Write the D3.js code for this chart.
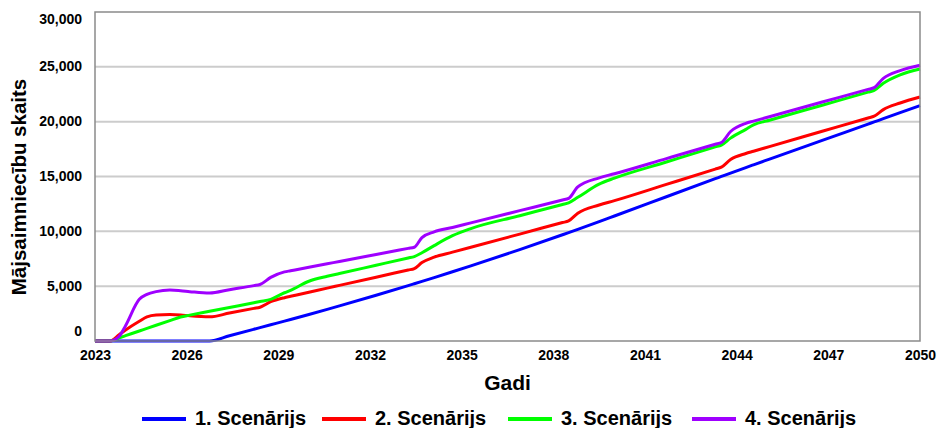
<!DOCTYPE html>
<html>
<head>
<meta charset="utf-8">
<script src="https://cdn.jsdelivr.net/npm/d3@7"></script>
<style>
  body { margin: 0; background: #fff; }
  text { font-family: "Liberation Sans", Arial, sans-serif; font-weight: bold; fill: #000; }
</style>
</head>
<body>
<div id="canvas"></div>
<script>
// time points (fractional years) shared by all series
var years = [2023, 2023.5, 2023.8, 2024.0, 2024.45, 2024.7, 2025.0, 2025.45, 2025.8, 2026.1,
  2026.75, 2027.4, 2028.2, 2028.4, 2028.75, 2029.2, 2029.4, 2030.0, 2030.6, 2031.0,
  2032.2, 2033.25, 2033.45, 2033.7, 2034.1, 2034.7, 2035.3, 2036.9, 2038.3, 2038.5,
  2038.8, 2039.5, 2040.0, 2041.7, 2043.3, 2043.5, 2043.8, 2044.3, 2044.55, 2045.1,
  2046.8, 2048.3, 2048.5, 2048.8, 2049.35, 2050];

var scen1 = [0, 0, 0, 0, 0, 0, 0, 0, 0, 0,
  0, 481, 1073, 1221, 1480, 1814, 1963, 2418, 2883, 3198,
  4168, 5048, 5219, 5434, 5782, 6311, 6850, 8334, 9687, 9884,
  10183, 10888, 11400, 13151, 14799, 15005, 15314, 15817, 16065, 16609,
  18292, 19777, 19975, 20272, 20817, 21460];

var scen2 = [0, 0, 600, 1000, 1800, 2200, 2380, 2420, 2380, 2300,
  2200, 2550, 2975, 3080, 3580, 3950, 4075, 4450, 4820, 5070,
  5820, 6475, 6600, 7150, 7650, 8100, 8550, 9750, 10800, 10950,
  11650, 12400, 12800, 14280, 15675, 15850, 16550, 17100, 17300, 17750,
  19125, 20340, 20500, 21100, 21700, 22250];

var scen3 = [0, 0, 295, 485, 910, 1150, 1435, 1860, 2190, 2360,
  2710, 3060, 3490, 3600, 3800, 4400, 4620, 5450, 5900, 6150,
  6910, 7575, 7700, 8050, 8700, 9600, 10250, 11425, 12450, 12600,
  13100, 14300, 14850, 16320, 17700, 17870, 18500, 19300, 19700, 20150,
  21500, 22690, 22850, 23500, 24270, 24800];

var scen4 = [0, 0, 450, 1400, 3800, 4250, 4500, 4640, 4580, 4500,
  4370, 4680, 5050, 5150, 5800, 6300, 6406, 6724, 7041, 7253,
  7888, 8444, 8550, 9430, 9950, 10350, 10770, 11885, 12860, 13000,
  14050, 14880, 15250, 16634, 17937, 18100, 19100, 19850, 20050, 20475,
  21787, 22946, 23100, 23950, 24660, 25150];

var seriesNames = ['1. Scenārijs', '2. Scenārijs', '3. Scenārijs', '4. Scenārijs'];
var seriesColors = ['#0000ff', '#ff0000', '#00ff00', '#9f00ff'];
var xTicks = [2023, 2026, 2029, 2032, 2035, 2038, 2041, 2044, 2047, 2050];
var yTicks = [0, 5000, 10000, 15000, 20000, 25000, 30000];

var W = 937, H = 428;
var m = {t: 12, r: 17, b: 87, l: 95};
var w = W - m.l - m.r,
    h = H - m.t - m.b;

var svg = d3.select('#canvas')
  .append('svg')
  .attr('width', W)
  .attr('height', H);

var plot = svg.append('g')
  .attr('transform', 'translate(' + m.l + ',' + m.t + ')');

var scaleX = d3.scaleLinear().domain([2023, 2050]).range([0, w]);
var scaleY = d3.scaleLinear().domain([0, 30000]).range([h, 0]);

// gridlines
plot.selectAll('.grid')
  .data(yTicks.slice(1, -1))
  .enter().append('line')
  .attr('x1', 0).attr('x2', w)
  .attr('y1', function(d){ return scaleY(d); })
  .attr('y2', function(d){ return scaleY(d); })
  .attr('stroke', '#cccccc')
  .attr('stroke-width', 2);

// y axis labels (end labels pulled inside like the original)
var axisY = d3.axisLeft(scaleY)
  .tickValues(yTicks)
  .tickSize(0)
  .tickPadding(13)
  .tickFormat(d3.format(','));
var gy = plot.append('g').call(axisY);
gy.select('.domain').remove();
gy.selectAll('text')
  .attr('font-size', 14)
  .attr('font-family', null)
  .attr('dy', function(d){
    if (d === 0) return '-0.4em';
    if (d === 30000) return '0.85em';
    return '0.28em';
  });

// x axis labels
var axisX = d3.axisBottom(scaleX)
  .tickValues(xTicks)
  .tickSize(0)
  .tickPadding(9)
  .tickFormat(d3.format('d'));
var gx = plot.append('g')
  .attr('transform', 'translate(0,' + h + ')')
  .call(axisX);
gx.select('.domain').remove();
gx.selectAll('text').attr('font-size', 14).attr('font-family', null);

// lines
var all = [scen1, scen2, scen3, scen4];
var line = d3.line()
  .x(function(d){ return scaleX(d[0]); })
  .y(function(d){ return scaleY(d[1]); })
  .curve(d3.curveMonotoneX);

plot.selectAll('.series')
  .data(all)
  .enter().append('path')
  .attr('class', 'series')
  .attr('fill', 'none')
  .attr('stroke', function(d, i){ return seriesColors[i]; })
  .attr('stroke-width', 3)
  .attr('stroke-linejoin', 'round')
  .attr('d', function(vals){
    return line(years.map(function(y, k){ return [y, vals[k]]; }));
  });

// frame
plot.append('rect')
  .attr('x', 0).attr('y', 0)
  .attr('width', w).attr('height', h)
  .attr('fill', 'none')
  .attr('stroke', '#8a8a8a')
  .attr('stroke-width', 1.5);

// axis titles
svg.append('text')
  .attr('x', m.l + w / 2)
  .attr('y', 390)
  .attr('text-anchor', 'middle')
  .attr('font-size', 21)
  .text('Gadi');

svg.append('text')
  .attr('transform', 'translate(26,187) rotate(-90)')
  .attr('text-anchor', 'middle')
  .attr('font-size', 20.5)
  .text('Mājsaimniecību skaits');

// legend
var legX = [142, 322, 508, 692];
var leg = svg.selectAll('.leg')
  .data(seriesNames)
  .enter().append('g')
  .attr('transform', function(d, i){ return 'translate(' + legX[i] + ',419)'; });
leg.append('line')
  .attr('x1', 0).attr('x2', 44)
  .attr('stroke', function(d, i){ return seriesColors[i]; })
  .attr('stroke-width', 4);
leg.append('text')
  .attr('x', 53)
  .attr('y', 6)
  .attr('font-size', 20)
  .text(function(d){ return d; });
</script>
</body>
</html>
